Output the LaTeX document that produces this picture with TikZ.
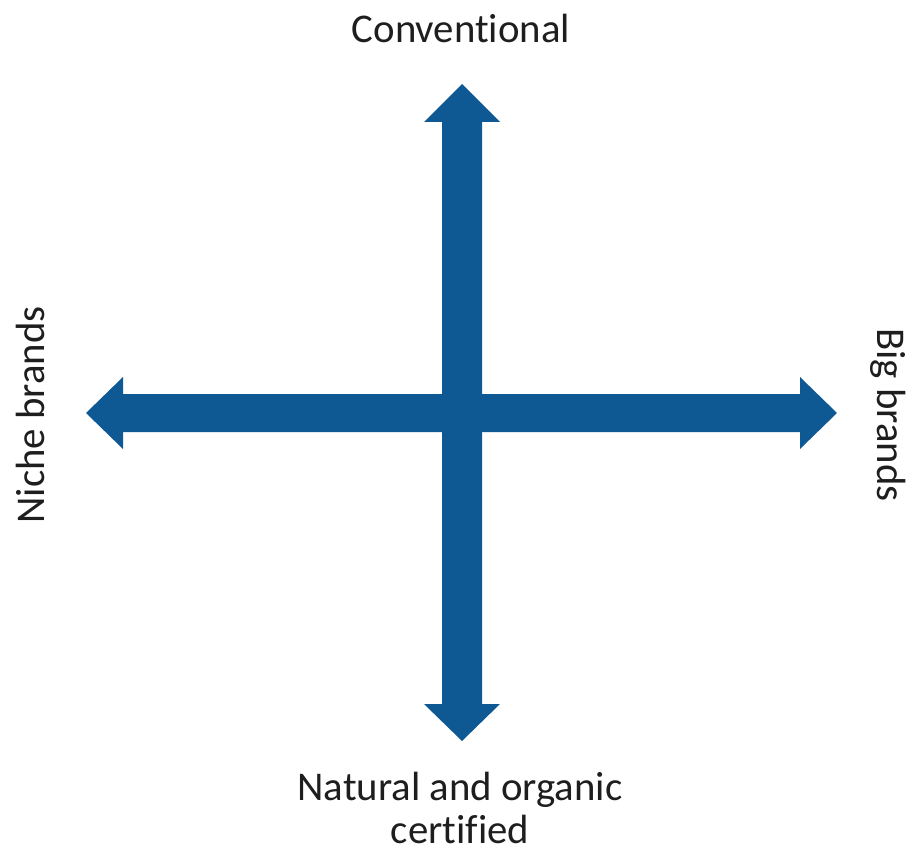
\documentclass[tikz,border=0pt]{standalone}
\usepackage{fontspec}
\setmainfont{Carlito}[Ligatures=NoCommon,RawFeature=-liga]
\definecolor{arrowblue}{RGB}{14,88,148}
\definecolor{labelgray}{RGB}{30,30,30}
\begin{document}
\begin{tikzpicture}[x=1pt,y=-1pt,
  bigarrow/.style={fill=arrowblue,draw=none},
  lbl/.style={inner sep=0pt,anchor=base,text=labelgray,font=\fontsize{40.8}{48}\selectfont}]
\useasboundingbox[fill=white] (0,0) rectangle (914,853);
% vertical double arrow
\fill[bigarrow] (462,84) -- (500,122) -- (482,122) -- (482,704) -- (500,704)
  -- (462,741) -- (424,704) -- (442,704) -- (442,122) -- (424,122) -- cycle;
% horizontal double arrow
\fill[bigarrow] (86,413) -- (123,377) -- (123,394) -- (800,394) -- (800,377)
  -- (837,413) -- (800,449) -- (800,432) -- (123,432) -- (123,449) -- cycle;
\node[lbl] (conv) at (461,43) {Conventional};
\node[lbl] (nat1) at (460,800) {Natural and organic};
\node[lbl] (nat2) at (460,843) {certified};
\node[lbl,rotate=90] (niche) at (45,415) {Niche brands};
\node[lbl,rotate=-90] (big) at (877,415) {Big brands};
\end{tikzpicture}
\end{document}
